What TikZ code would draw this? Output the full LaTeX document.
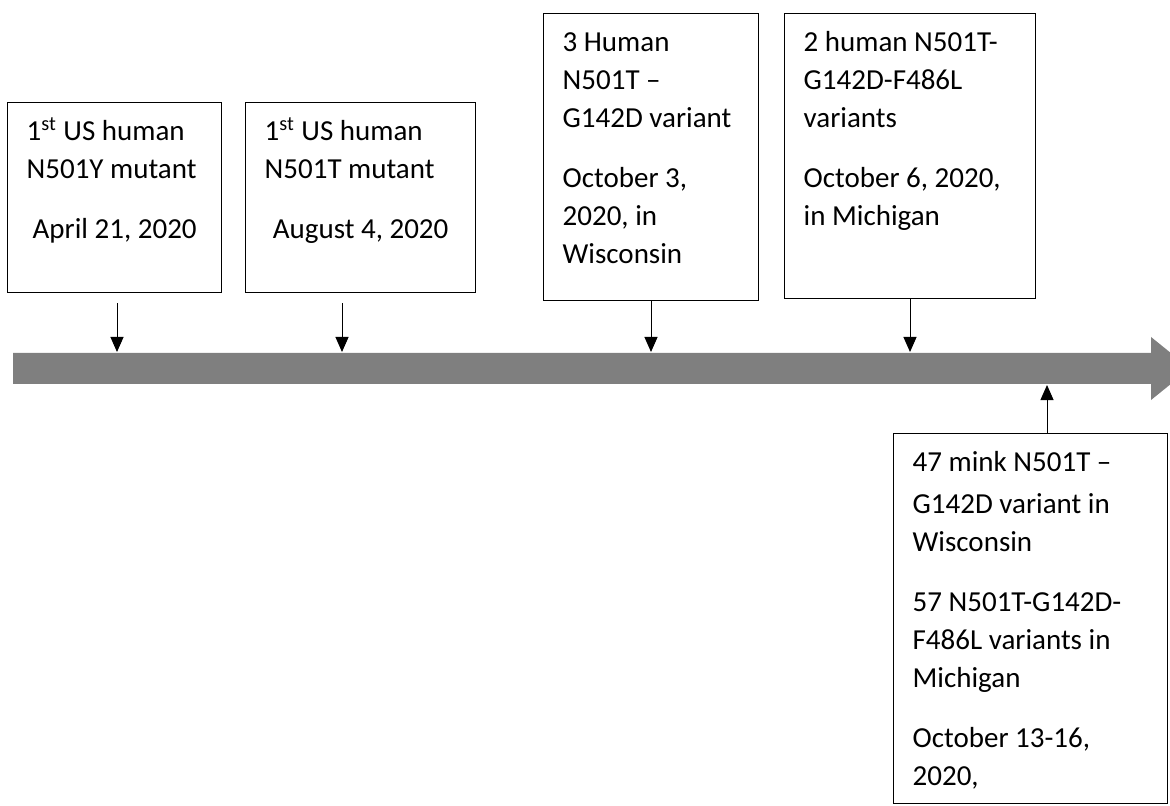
\documentclass[tikz,border=0pt]{standalone}
\usepackage{fontspec}
\setmainfont{Carlito}
\usetikzlibrary{arrows.meta}

\definecolor{bargray}{HTML}{7F7F7F}
\newcommand{\evtext}[3]{\parbox[t][#2][t]{#1}{\leftskip=9.5pt\rightskip=0pt plus 1fil\parfillskip=0pt plus 1fil\rule{0pt}{19pt}#3}}
\newcommand{\evdate}[1]{{\leftskip=0pt plus 1fil\rightskip=0pt plus 1fil\parfillskip=0pt #1\par}}
\newcommand{\evgap}{\par\vspace{11pt}}

\begin{document}
\begin{tikzpicture}[x=0.5pt, y=-0.5pt,
    every node/.style={font=\fontsize{14.5}{19}\selectfont},
    evbox/.style={draw, line width=0.65pt, inner sep=0pt, anchor=north west},
    tick/.style={line width=0.5pt, -{Triangle[length=7.5pt,width=6.5pt]}}]
  \useasboundingbox (0,0) rectangle (1170,806);

  % timeline bar
  \fill[bargray] (13,353) -- (1151,353) -- (1151,337) -- (1190,368.5)
    -- (1151,400) -- (1151,384) -- (13,384) -- cycle;
  \coordinate (d1) at (117,352);
  \coordinate (d2) at (342,352);
  \coordinate (d3) at (651,352);
  \coordinate (d4) at (910,352);
  \coordinate (u5) at (1047,385);

  % events above the bar
  \node[evbox] (b1) at (7,102) {\evtext{107pt}{95pt}{1\textsuperscript{st} US human\\N501Y mutant\evgap\evdate{April 21, 2020}}};
  \node[evbox] (b2) at (245,102) {\evtext{115pt}{95pt}{1\textsuperscript{st} US human\\N501T mutant\evgap\evdate{August 4, 2020}}};
  \node[evbox] (b3) at (543,13) {\evtext{107.5pt}{143.5pt}{3 Human\\N501T --\\G142D variant\evgap October 3,\\2020, in\\Wisconsin}};
  \node[evbox] (b4) at (784,13) {\evtext{125.5pt}{142.5pt}{2 human N501T-\\G142D-F486L\\variants\evgap October 6, 2020,\\in Michigan}};

  % event below the bar
  \node[evbox] (b5) at (893,433) {\evtext{137pt}{185pt}{\vspace{2pt}47 mink N501T --\\G142D variant in\\Wisconsin\evgap 57 N501T-G142D-\\F486L variants in\\Michigan\evgap October 13-16,\\2020,}};

  \draw[tick] ([yshift=-5pt]b1.south -| d1) -- (d1);
  \draw[tick] ([yshift=-5pt]b2.south -| d2) -- (d2);
  \draw[tick] (b3.south -| d3) -- (d3);
  \draw[tick] (b4.south -| d4) -- (d4);
  \draw[tick] (b5.north -| u5) -- (u5);
\end{tikzpicture}
\end{document}
